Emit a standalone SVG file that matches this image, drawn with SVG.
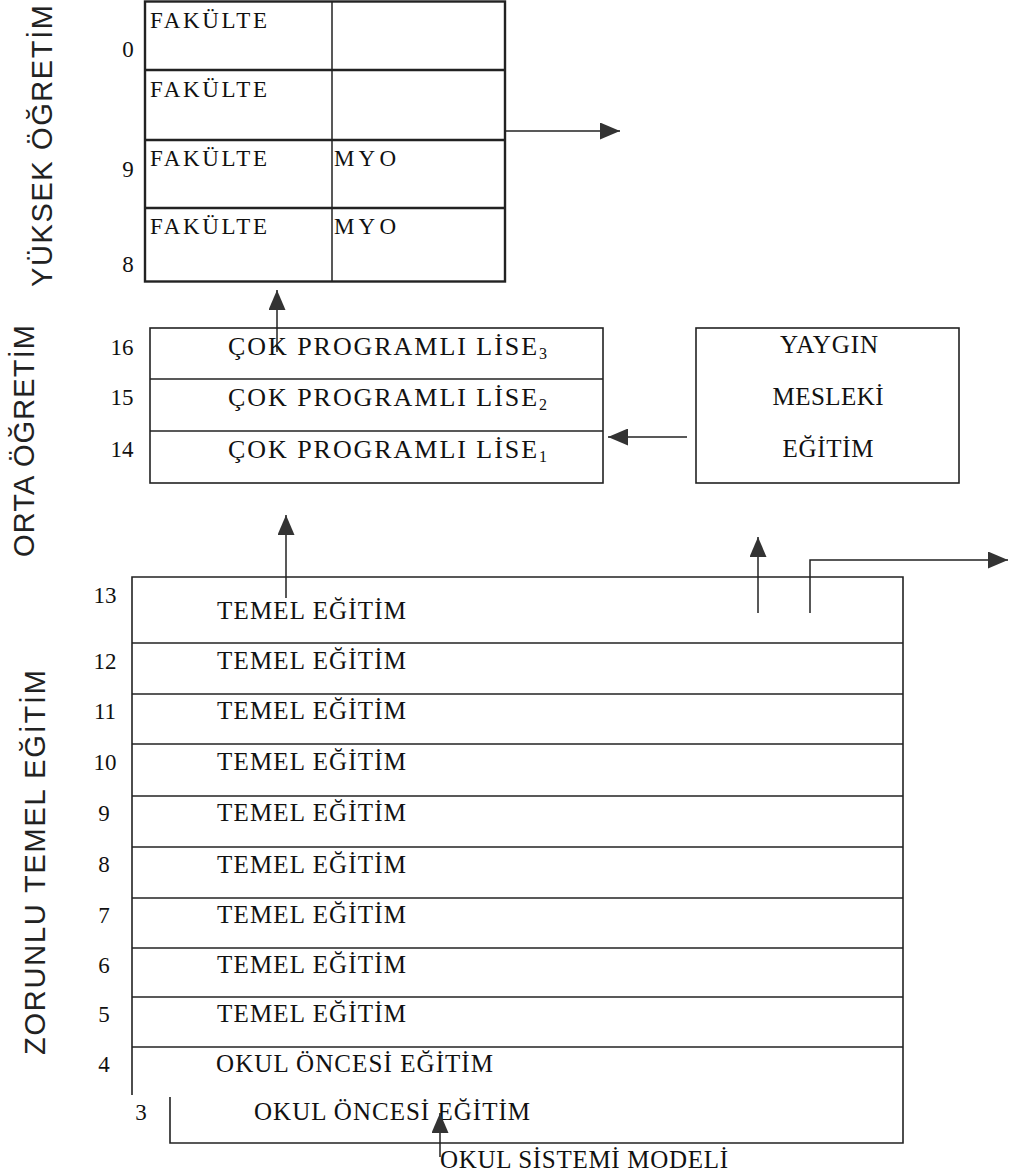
<svg xmlns="http://www.w3.org/2000/svg" width="1018" height="1176" viewBox="0 0 1018 1176">
<style>
.box{fill:none;stroke:#222;stroke-width:1.6}
.thick{stroke:#222;stroke-width:2.4;fill:none}
.ln{stroke:#222;stroke-width:1.5;fill:none}
.sf{font-family:"Liberation Serif","Times New Roman",serif;fill:#111}
.num{font-family:"Liberation Serif","Times New Roman",serif;fill:#111;font-size:23px;text-anchor:middle}
.side{font-family:"Liberation Sans",Arial,sans-serif;fill:#222;font-size:29px}
.conn{stroke:#222;stroke-width:1.5;fill:none;marker-end:url(#ah)}
</style>
<defs>
<marker id="ah" markerUnits="userSpaceOnUse" markerWidth="20" markerHeight="17" refX="20" refY="8.5" orient="auto">
<path d="M0,0 L20,8.5 L0,17 z" fill="#333"/>
</marker>
</defs>
<rect width="1018" height="1176" fill="#fff"/>

<g id="side-labels">
<text class="side" transform="translate(52,287) rotate(-90)" textLength="282" lengthAdjust="spacing">YÜKSEK ÖĞRETİM</text>
<text class="side" transform="translate(34,557) rotate(-90)" textLength="232" lengthAdjust="spacing">ORTA ÖĞRETİM</text>
<text class="side" transform="translate(45,1055) rotate(-90)" textLength="385" lengthAdjust="spacing">ZORUNLU TEMEL EĞİTİM</text>
</g>

<g id="yuksek-ogretim">
<rect class="thick" x="145" y="1.5" width="360" height="280"/>
<line class="thick" x1="145" y1="70" x2="505" y2="70"/>
<line class="thick" x1="145" y1="140" x2="505" y2="140"/>
<line class="thick" x1="145" y1="208" x2="505" y2="208"/>
<line class="ln" x1="332" y1="1" x2="332" y2="282"/>
<text class="sf" x="150" y="28" font-size="23" textLength="117" lengthAdjust="spacing">FAKÜLTE</text>
<text class="sf" x="150" y="97" font-size="23" textLength="117" lengthAdjust="spacing">FAKÜLTE</text>
<text class="sf" x="150" y="166" font-size="23" textLength="117" lengthAdjust="spacing">FAKÜLTE</text>
<text class="sf" x="150" y="234" font-size="23" textLength="117" lengthAdjust="spacing">FAKÜLTE</text>
<text class="sf" x="334" y="166" font-size="23" textLength="62" lengthAdjust="spacing">MYO</text>
<text class="sf" x="334" y="234" font-size="23" textLength="62" lengthAdjust="spacing">MYO</text>
<text class="num" x="128" y="57">0</text>
<text class="num" x="128" y="177">9</text>
<text class="num" x="128" y="272">8</text>
</g>

<g id="cok-programli-lise">
<rect class="box" x="150" y="328" width="453" height="155"/>
<line class="ln" x1="150" y1="379" x2="603" y2="379"/>
<line class="ln" x1="150" y1="431" x2="603" y2="431"/>
<text class="sf" x="228" y="355" font-size="26" textLength="319" lengthAdjust="spacing">ÇOK PROGRAMLI LİSE<tspan font-size="16" dy="4">3</tspan></text>
<text class="sf" x="228" y="406" font-size="26" textLength="319" lengthAdjust="spacing">ÇOK PROGRAMLI LİSE<tspan font-size="16" dy="4">2</tspan></text>
<text class="sf" x="228" y="458" font-size="26" textLength="319" lengthAdjust="spacing">ÇOK PROGRAMLI LİSE<tspan font-size="16" dy="4">1</tspan></text>
<text class="num" x="122" y="355">16</text>
<text class="num" x="122" y="405">15</text>
<text class="num" x="122" y="457">14</text>
</g>

<g id="yaygin-mesleki-egitim">
<rect class="box" x="696" y="328" width="263" height="155"/>
<text class="sf" x="829" y="353" font-size="25" text-anchor="middle" textLength="98" lengthAdjust="spacing">YAYGIN</text>
<text class="sf" x="828" y="405" font-size="25" text-anchor="middle" textLength="111" lengthAdjust="spacing">MESLEKİ</text>
<text class="sf" x="828" y="457" font-size="25" text-anchor="middle" textLength="91" lengthAdjust="spacing">EĞİTİM</text>
</g>

<g id="temel-egitim">
<path class="box" d="M132,1095 V577 H903 V1143 H170 V1097"/>
<line class="ln" x1="132" y1="643" x2="903" y2="643"/>
<line class="ln" x1="132" y1="694" x2="903" y2="694"/>
<line class="ln" x1="132" y1="744" x2="903" y2="744"/>
<line class="ln" x1="132" y1="796" x2="903" y2="796"/>
<line class="ln" x1="132" y1="847" x2="903" y2="847"/>
<line class="ln" x1="132" y1="898" x2="903" y2="898"/>
<line class="ln" x1="132" y1="948" x2="903" y2="948"/>
<line class="ln" x1="132" y1="997" x2="903" y2="997"/>
<line class="ln" x1="132" y1="1047" x2="903" y2="1047"/>
<text class="sf" x="217" y="619" font-size="25" textLength="189" lengthAdjust="spacing">TEMEL EĞİTİM</text>
<text class="sf" x="217" y="669" font-size="25" textLength="189" lengthAdjust="spacing">TEMEL EĞİTİM</text>
<text class="sf" x="217" y="719" font-size="25" textLength="189" lengthAdjust="spacing">TEMEL EĞİTİM</text>
<text class="sf" x="217" y="770" font-size="25" textLength="189" lengthAdjust="spacing">TEMEL EĞİTİM</text>
<text class="sf" x="217" y="821" font-size="25" textLength="189" lengthAdjust="spacing">TEMEL EĞİTİM</text>
<text class="sf" x="217" y="873" font-size="25" textLength="189" lengthAdjust="spacing">TEMEL EĞİTİM</text>
<text class="sf" x="217" y="923" font-size="25" textLength="189" lengthAdjust="spacing">TEMEL EĞİTİM</text>
<text class="sf" x="217" y="973" font-size="25" textLength="189" lengthAdjust="spacing">TEMEL EĞİTİM</text>
<text class="sf" x="217" y="1022" font-size="25" textLength="189" lengthAdjust="spacing">TEMEL EĞİTİM</text>
<text class="sf" x="216" y="1072" font-size="25" textLength="277" lengthAdjust="spacing">OKUL ÖNCESİ EĞİTİM</text>
<text class="sf" x="254" y="1120" font-size="25" textLength="276" lengthAdjust="spacing">OKUL ÖNCESİ EĞİTİM</text>
<text class="num" x="105" y="603">13</text>
<text class="num" x="105" y="669">12</text>
<text class="num" x="105" y="719">11</text>
<text class="num" x="105" y="770">10</text>
<text class="num" x="104" y="821">9</text>
<text class="num" x="104" y="872">8</text>
<text class="num" x="104" y="923">7</text>
<text class="num" x="104" y="973">6</text>
<text class="num" x="104" y="1022">5</text>
<text class="num" x="104" y="1072">4</text>
<text class="num" x="141" y="1120">3</text>
</g>

<g id="title">
<text class="sf" x="440" y="1168" font-size="25" textLength="288" lengthAdjust="spacing">OKUL SİSTEMİ MODELİ</text>
</g>

<g id="connectors">
<path class="conn" d="M504,131 H620"/>
<path class="conn" d="M277,352 V290"/>
<path class="conn" d="M687,437 H608"/>
<path class="conn" d="M286,598 V515"/>
<path class="conn" d="M758,613 V537"/>
<path class="conn" d="M810,613 V560 H1008"/>
<path class="conn" d="M440,1157 V1113"/>
</g>
</svg>
